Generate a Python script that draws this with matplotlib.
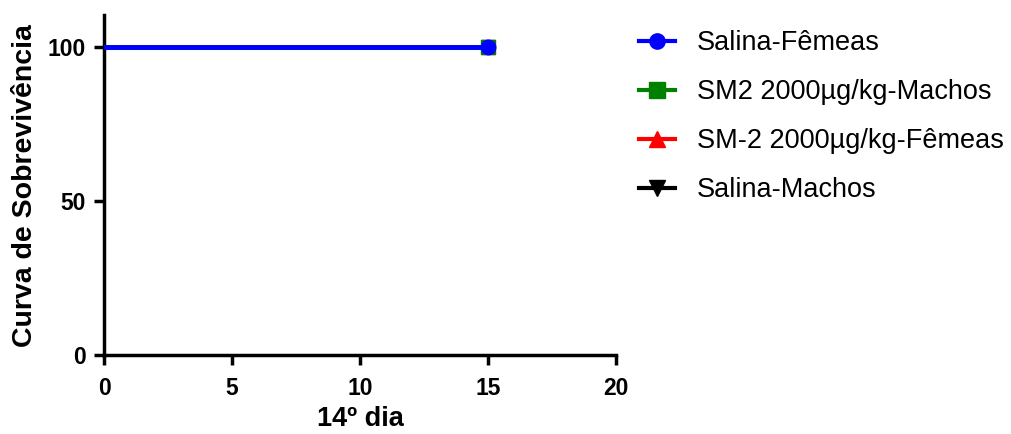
import matplotlib
matplotlib.use("Agg")
import matplotlib.pyplot as plt

plt.rcParams['font.family'] = ['Liberation Sans', 'DejaVu Sans']

# survival data (days, % survival)
dias = [0, 15]
salina_femeas = [100, 100]
sm2_machos = [100, 100]
sm2_femeas = [100, 100]
salina_machos = [100, 100]

series = [
    ("Salina-Fêmeas", salina_femeas, "blue", "o"),
    ("SM2 2000µg/kg-Machos", sm2_machos, "green", "s"),
    ("SM-2 2000µg/kg-Fêmeas", sm2_femeas, "red", "^"),
    ("Salina-Machos", salina_machos, "black", "v"),
]

fig = plt.figure(figsize=(10.11, 4.34), dpi=100)
ax = fig.add_axes([0.1029, 0.182, 0.5064, 0.783])

handles = []
for i, (nome, vals, cor, mk) in enumerate(series):
    z = 10 - i
    ax.step(dias, vals, where="post", color=cor, lw=3.5, zorder=z)
    ax.plot(dias[-1:], vals[-1:], marker=mk, color=cor, ms=10.5, ls="none",
            zorder=z + 0.5, clip_on=False)
    h, = plt.plot([], [], color=cor, lw=3, marker=mk, ms=11)
    handles.append(h)

ax.set_xlim(0, 20)
ax.set_ylim(0, 110.4)
ax.set_xticks([0, 5, 10, 15, 20])
ax.set_yticks([0, 50, 100])
for s in ["top", "right"]:
    ax.spines[s].set_visible(False)
for s in ["left", "bottom"]:
    ax.spines[s].set_linewidth(2.5)
ax.tick_params(width=2.5, length=7, labelsize=16.5)
ax.tick_params(axis="x", pad=9)
ax.tick_params(axis="y", pad=6)
for lab in ax.get_xticklabels() + ax.get_yticklabels():
    lab.set_fontweight("bold")
ax.set_xlabel("14º dia", fontsize=19.5, fontweight="bold", labelpad=4)
ax.set_ylabel("Curva de Sobrevivência", fontsize=20.5, fontweight="bold", labelpad=7)

fig.legend(handles, [s[0] for s in series], loc="upper left",
           bbox_to_anchor=(0.632, 0.93), frameon=False, fontsize=19.5,
           borderaxespad=0, borderpad=0,
           handlelength=1.33, handletextpad=0.8, labelspacing=0.85)

fig.savefig("out.png", dpi=100)
